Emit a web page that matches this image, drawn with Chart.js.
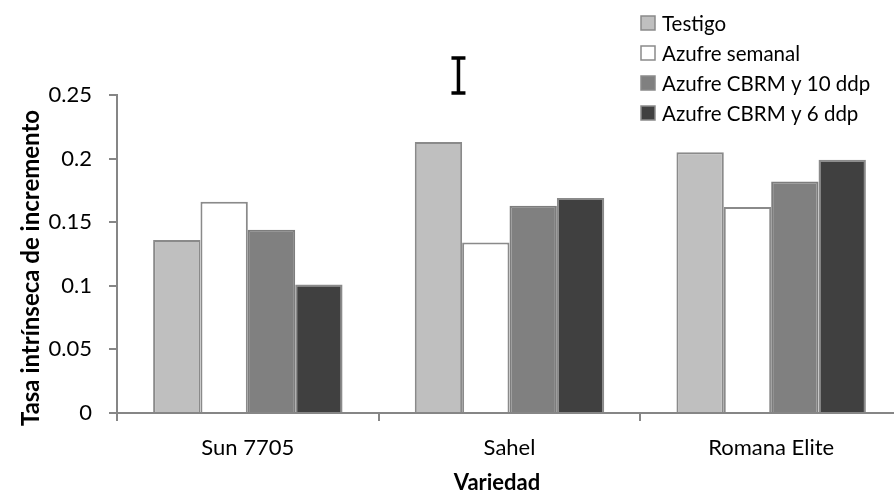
<!DOCTYPE html>
<html>
<head>
<meta charset="utf-8">
<script src="https://cdn.jsdelivr.net/npm/chart.js@4"></script>
<style>
  html, body { margin: 0; padding: 0; background: #fff; overflow: hidden; }
  #wrap { width: 910px; height: 497px; }
</style>
</head>
<body>
<div id="wrap"><canvas id="rateChart" width="910" height="497"></canvas></div>
<script>
// DATA
const varieties = ['Sun 7705', 'Sahel', 'Romana Elite'];
const seriesNames = ['Testigo', 'Azufre semanal', 'Azufre CBRM y 10 ddp', 'Azufre CBRM y 6 ddp'];
const testigo = [0.136, 0.213, 0.205];
const azufreSemanal = [0.166, 0.134, 0.162];
const cbrm10 = [0.144, 0.163, 0.182];
const cbrm6 = [0.101, 0.169, 0.199];
const yTickLabels = ['0', '0.05', '0.1', '0.15', '0.2', '0.25'];
const xTitle = 'Variedad';
const yTitle = 'Tasa intrínseca de incremento';

const FONT = 'Lato, "Open Sans", sans-serif';
const AXIS = '#868686';

// legend in the top right corner, drawn over the plot
const cornerLegend = {
  id: 'cornerLegend',
  afterDraw(chart) {
    const ctx = chart.ctx;
    const x0 = 641, y0 = 23, step = 30, box = 14;
    ctx.save();
    ctx.font = '20.5px ' + FONT;
    ctx.textBaseline = 'middle';
    chart.data.datasets.forEach((ds, i) => {
      const y = y0 + i * step;
      ctx.fillStyle = ds.backgroundColor;
      ctx.fillRect(x0, y - box / 2, box, box);
      ctx.strokeStyle = '#8a8a8a';
      ctx.lineWidth = 1.5;
      ctx.strokeRect(x0, y - box / 2, box, box);
      ctx.fillStyle = '#000';
      ctx.fillText(ds.label, x0 + 21, y + 1);
    });
    ctx.restore();
  }
};

// axis titles, placed like the original
const axisTitles = {
  id: 'axisTitles',
  afterDraw(chart) {
    const ctx = chart.ctx;
    ctx.save();
    ctx.fillStyle = '#000';
    ctx.textAlign = 'center';
    ctx.textBaseline = 'middle';
    ctx.font = 'bold 22px ' + FONT;
    ctx.fillText(xTitle, 497, 483);
    ctx.font = 'bold 24px ' + FONT;
    ctx.translate(31, 268);
    ctx.rotate(-Math.PI / 2);
    ctx.fillText(yTitle, 0, 0);
    ctx.restore();
  }
};

// the little I mark above Sahel
const iMark = {
  id: 'iMark',
  afterDatasetsDraw(chart) {
    const ctx = chart.ctx;
    const bar = chart.getDatasetMeta(0).data[1];
    const yScale = chart.scales.y;
    const x = bar.x + 20;
    const top = yScale.getPixelForValue(0.279);
    const bottom = yScale.getPixelForValue(0.2515);
    ctx.save();
    ctx.strokeStyle = '#000';
    ctx.lineWidth = 3.5;
    ctx.beginPath();
    ctx.moveTo(x, top); ctx.lineTo(x, bottom);
    ctx.moveTo(x - 7, top); ctx.lineTo(x + 7, top);
    ctx.moveTo(x - 7, bottom); ctx.lineTo(x + 7, bottom);
    ctx.stroke();
    ctx.restore();
  }
};

const ctx = document.getElementById('rateChart').getContext('2d');
new Chart(ctx, {
  type: 'bar',
  data: {
    labels: varieties,
    datasets: [
      { label: seriesNames[0], data: testigo, backgroundColor: '#bfbfbf', borderColor: '#8a8a8a' },
      { label: seriesNames[1], data: azufreSemanal, backgroundColor: '#ffffff', borderColor: '#8a8a8a' },
      { label: seriesNames[2], data: cbrm10, backgroundColor: '#808080', borderColor: '#7d7d7d' },
      { label: seriesNames[3], data: cbrm6, backgroundColor: '#404040', borderColor: '#8a8a8a' },
    ],
  },
  options: {
    responsive: false,
    animation: false,
    devicePixelRatio: 1,
    layout: { padding: { top: 95, right: 8, left: 0, bottom: 0 } },
    datasets: {
      bar: { categoryPercentage: 0.724, barPercentage: 1, borderWidth: 2 },
    },
    plugins: {
      legend: { display: false },
      tooltip: { enabled: false },
    },
    scales: {
      x: {
        grid: { offset: true, drawOnChartArea: false, drawTicks: true, tickLength: 8, color: AXIS, lineWidth: 2 },
        border: { display: true, color: AXIS, width: 2 },
        ticks: { color: '#000', font: { family: FONT, size: 22 }, padding: 14 },
        afterFit(scale) { scale.height = 84; },
      },
      y: {
        min: 0,
        max: 0.25,
        ticks: {
          stepSize: 0.05,
          color: '#000',
          font: { family: FONT, size: 22 },
          padding: 17,
          callback: (v, i) => yTickLabels[i],
        },
        grid: { drawOnChartArea: false, drawTicks: true, tickLength: 8, color: AXIS, lineWidth: 2 },
        border: { display: true, color: AXIS, width: 2 },
        afterFit(scale) { scale.width = 117; },
      },
    },
  },
  plugins: [cornerLegend, axisTitles, iMark],
});
</script>
</body>
</html>
